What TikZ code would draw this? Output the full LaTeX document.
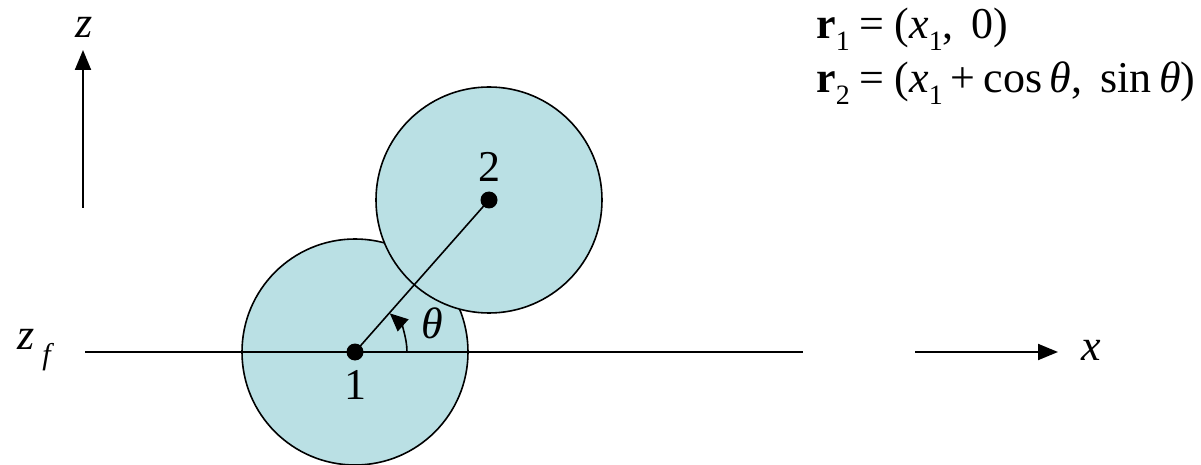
\documentclass[tikz,border=0pt]{standalone}
\usepackage{fontspec}
\setmainfont{Liberation Serif}
\usetikzlibrary{arrows.meta}
\definecolor{ballfill}{RGB}{186,224,228}
\newcommand\mysub[1]{\raisebox{-0.28em}{\fontsize{14}{16}\selectfont #1}}
\begin{document}
\begin{tikzpicture}[x=0.5pt,y=-0.5pt,
  ball/.style={draw=black,line width=0.8pt,fill=ballfill},
  axis/.style={line width=1pt},
  lbl/.style={font=\fontsize{22}{26}\selectfont,inner sep=0pt},
  dotc/.style={circle,fill=black,inner sep=0pt,minimum size=8.5pt}]
\useasboundingbox (0,0) rectangle (1201,465);
\coordinate (c1) at (355,352);
\coordinate (c2) at (489,200);
\draw[ball] (c1) circle (113);
\draw[ball] (c2) circle (113);
% horizontal line
\coordinate (hl) at (85,352);
\coordinate (hr) at (803,352);
\draw[axis] (hl) -- (hr);
% link
\draw[line width=0.8pt] (c1) -- (c2);
% angle arc
\draw[line width=0.8pt,-{Triangle[length=9pt,width=8pt]}] (407,352) arc[start angle=0,end angle=-48,radius=52];
\node[dotc] (d1) at (c1) {};
\node[dotc] (d2) at (c2) {};
\node[lbl] (n1) at (355,385) {1};
\node[lbl] (n2) at (489,167) {2};
\node[lbl] (th) at (432,323) {\textit{θ}};
% z axis
\coordinate (zb) at (83,208);
\coordinate (zt) at (83,50);
\draw[axis,-{Triangle[length=10pt,width=8pt]}] (zb) -- (zt);
\node[lbl] (zl) at (84,27) {\textit{z}};
% x axis arrow
\coordinate (xb) at (915,352);
\coordinate (xt) at (1058,352);
\draw[axis,-{Triangle[length=10pt,width=8pt]}] (xb) -- (xt);
\node[lbl] (xl) at (1091,350) {\textit{x}};
% z_f
\node[lbl] (zf) at (36,350) {\textit{z}\,\raisebox{-0.35em}{\fontsize{15}{17}\selectfont\textit{f}}};
% equations
\node[lbl,anchor=west] (e1) at (816,29) {\textbf{r}\mysub{1}\kern5pt=\kern5pt(\textit{x}\mysub{1},\kern9pt0)};
\node[lbl,anchor=west] (e2) at (816,83) {\textbf{r}\mysub{2}\kern5pt=\kern5pt(\textit{x}\mysub{1}\kern4pt+\kern4pt cos\,\textit{θ},\kern9pt sin\,\textit{θ})};
\end{tikzpicture}
\end{document}
